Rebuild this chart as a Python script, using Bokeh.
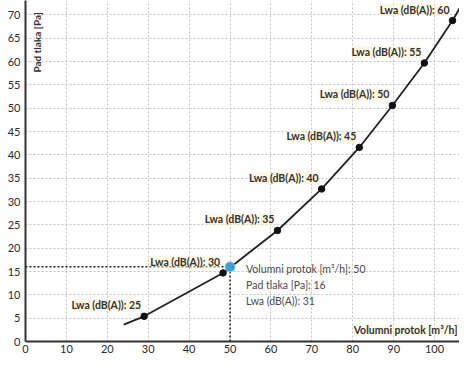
from bokeh.plotting import figure
from bokeh.models import Range1d, FixedTicker, ColumnDataSource, LabelSet, Label
from bokeh.core.properties import value
from bokeh.embed import file_html
from bokeh.resources import INLINE
import math

# --- data ---
lwa = [25, 30, 35, 40, 45, 50, 55, 60]
flow = [29.0, 48.3, 61.6, 72.4, 81.6, 89.7, 97.5, 104.4]
pressure = [5.4, 14.7, 23.8, 32.7, 41.6, 50.6, 59.7, 68.8]

curve_flow = [24.0, 29.0, 48.3, 61.6, 72.4, 81.6, 89.7, 97.5, 104.4, 106.5]
curve_pressure = [3.6, 5.4, 14.7, 23.8, 32.7, 41.6, 50.6, 59.7, 68.8, 72.0]

hover_flow = 50
hover_pressure = 16
hover_lwa = 31

x_ticks = [0, 10, 20, 30, 40, 50, 60, 70, 80, 90, 100]
y_ticks = [0, 5, 10, 15, 20, 25, 30, 35, 40, 45, 50, 55, 60, 65, 70]

x_title = "Volumni protok [m³/h]"
y_title = "Pad tlaka [Pa]"

FONT = value("Lato")

p = figure(width=459, height=357, output_backend="svg", toolbar_location=None,
           x_range=Range1d(0, 106.1), y_range=Range1d(0, 73.1),
           min_border_left=25, min_border_right=0, min_border_top=0, min_border_bottom=16)
p.outline_line_color = None
p.background_fill_color = "white"

for ax, ticks in ((p.xaxis[0], x_ticks), (p.yaxis[0], y_ticks)):
    ax.ticker = FixedTicker(ticks=ticks)
    ax.axis_line_color = "#333333"
    ax.axis_line_width = 2
    ax.major_tick_out = 0
    ax.major_tick_in = 0
    ax.minor_tick_out = 0
    ax.minor_tick_in = 0
    ax.major_label_text_font = "Lato"
    ax.major_label_text_font_size = "11px"
    ax.major_label_text_color = "#2a2a2a"
p.xaxis[0].major_label_standoff = 3
p.yaxis[0].major_label_standoff = 5

p.xgrid.grid_line_color = "#c4c4c4"
p.ygrid.grid_line_color = "#c4c4c4"
p.xgrid.grid_line_dash = "2 2"
p.ygrid.grid_line_dash = "2 2"
p.xgrid.grid_line_width = 1
p.ygrid.grid_line_width = 1

# crosshair to highlighted point
p.line([0, hover_flow], [hover_pressure, hover_pressure], line_color="#222222",
       line_width=1.5, line_dash="2 2")
p.line([hover_flow, hover_flow], [0, hover_pressure], line_color="#222222",
       line_width=1.5, line_dash="2 2")

# curve and points
p.line(curve_flow, curve_pressure, line_color="#222222", line_width=1.8)
p.scatter(flow, pressure, size=6.5, color="#111111")
p.scatter([hover_flow], [hover_pressure], size=10, fill_color="#3a9fd6",
          line_color="#8ccbec", line_width=1)

src = ColumnDataSource(dict(x=flow, y=pressure,
                            t=["Lwa (dB(A)): %d" % v for v in lwa]))
labels = LabelSet(x="x", y="y", text="t", source=src, text_align="right",
                  text_baseline="bottom", x_offset=-3, y_offset=5,
                  text_font=FONT, text_font_size="10.5px", text_font_style="bold",
                  text_color="#333333", background_fill_color="#fdf1c8",
                  background_fill_alpha=0.5)
p.add_layout(labels)

tip_lines = ["%s: %d" % (x_title, hover_flow),
             "%s: %d" % (y_title, hover_pressure),
             "Lwa (dB(A)): %d" % hover_lwa]
for i, t in enumerate(tip_lines):
    p.add_layout(Label(x=hover_flow, y=hover_pressure, text=t, x_offset=16,
                       y_offset=-2 - 16 * i, text_align="left", text_baseline="middle",
                       text_font="Lato", text_font_size="10.5px", text_color="#4a4a4a"))

# axis titles drawn inside the plot
p.add_layout(Label(x=105.6, y=2.4, text=x_title, text_align="right",
                   text_baseline="middle", text_font="Lato", text_font_size="10.5px",
                   text_font_style="bold", text_color="#333333",
                   background_fill_color="#fdf1c8", background_fill_alpha=0.4))
p.add_layout(Label(x=2.7, y=70.6, text=y_title, angle=math.pi / 2,
                   text_align="right", text_baseline="middle", text_font="Lato",
                   text_font_size="10px", text_font_style="bold", text_color="#333333"))

open("out.html", "w").write(file_html(p, INLINE))
